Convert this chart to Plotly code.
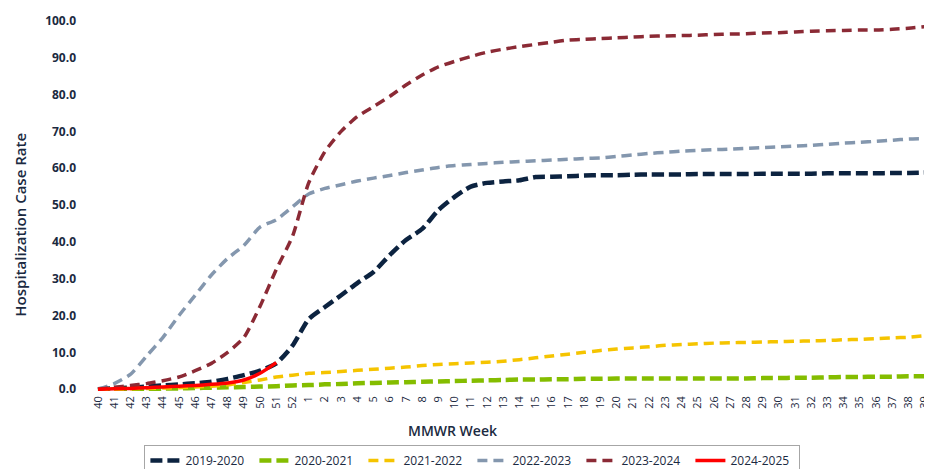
import plotly.graph_objects as go

weeks = [str(w) for w in range(40, 53)] + [str(w) for w in range(1, 40)]

s2019_2020 = [0, 0.2, 0.4, 0.7, 1.0, 1.3, 1.6, 2.0, 2.8, 3.8, 5.0, 7.0, 11.8,
              19.0, 22.3, 25.5, 28.8, 31.8, 36.4, 40.5, 43.5, 48.6, 52.2, 55.0, 56.0,
              56.4, 56.7, 57.6, 57.7, 57.8, 58.0, 58.1, 58.1, 58.2, 58.3, 58.3, 58.3,
              58.4, 58.4, 58.4, 58.4, 58.5, 58.5, 58.5, 58.5, 58.6, 58.6, 58.6, 58.6,
              58.7, 58.7, 58.8]
s2020_2021 = [0, 0, 0.05, 0.1, 0.15, 0.2, 0.3, 0.4, 0.5, 0.6, 0.7, 0.8, 1.0,
              1.1, 1.3, 1.4, 1.6, 1.7, 1.8, 1.9, 2.0, 2.1, 2.2, 2.3, 2.4,
              2.5, 2.6, 2.6, 2.7, 2.7, 2.8, 2.8, 2.9, 2.9, 2.9, 2.9, 2.9,
              2.9, 2.9, 2.9, 2.9, 3.0, 3.0, 3.1, 3.1, 3.2, 3.3, 3.3, 3.4,
              3.4, 3.5, 3.5]
s2021_2022 = [0, 0, 0.1, 0.2, 0.3, 0.4, 0.6, 0.8, 1.2, 1.8, 2.5, 3.3, 3.8,
              4.3, 4.5, 4.8, 5.1, 5.4, 5.7, 6.0, 6.4, 6.7, 6.9, 7.1, 7.3,
              7.6, 8.0, 8.5, 9.0, 9.5, 10.0, 10.5, 10.9, 11.2, 11.5, 11.9, 12.1,
              12.3, 12.5, 12.6, 12.7, 12.8, 12.9, 13.0, 13.1, 13.2, 13.4, 13.5, 13.7,
              13.9, 14.1, 14.5]
s2022_2023 = [0, 1.5, 4.0, 9.0, 14.0, 20.0, 25.5, 31.0, 35.5, 39.0, 44.0, 46.0, 49.5,
              53.0, 54.5, 55.5, 56.5, 57.3, 58.0, 58.8, 59.5, 60.2, 60.7, 61.0, 61.3,
              61.6, 61.8, 62.0, 62.2, 62.4, 62.6, 62.8, 63.2, 63.6, 64.0, 64.3, 64.6,
              64.8, 65.0, 65.2, 65.4, 65.6, 65.8, 66.0, 66.2, 66.5, 66.8, 67.0, 67.3,
              67.6, 67.9, 68.0]
s2023_2024 = [0, 0.5, 1.0, 1.5, 2.3, 3.3, 5.0, 7.0, 10.0, 14.0, 22.5, 32.5, 41.5,
              56.0, 64.5, 70.0, 74.0, 76.7, 79.5, 82.6, 85.3, 87.5, 89.0, 90.3, 91.5,
              92.3, 93.0, 93.6, 94.2, 94.8, 95.0, 95.2, 95.4, 95.6, 95.8, 95.9, 96.0,
              96.1, 96.3, 96.4, 96.5, 96.7, 96.8, 97.0, 97.2, 97.3, 97.4, 97.5, 97.5,
              97.7, 98.0, 98.4]
s2024_2025 = [0, 0.1, 0.2, 0.4, 0.6, 0.8, 1.0, 1.3, 1.7, 2.5, 4.3, 7.2]

series = [
    ("2019-2020", s2019_2020, "#0C2340", 4.5, "12px,5px"),
    ("2020-2021", s2020_2021, "#84BD00", 4.5, "12px,5px"),
    ("2021-2022", s2021_2022, "#F5C400", 3.5, "10px,6px"),
    ("2022-2023", s2022_2023, "#8497AE", 3.5, "10px,6px"),
    ("2023-2024", s2023_2024, "#8B2A35", 3.5, "10px,6px"),
]

fig = go.Figure()
for name, vals, color, w, dash in series:
    fig.add_trace(go.Scatter(x=weeks[:len(vals)], y=vals, name=name, mode="lines",
                             line=dict(color=color, width=w, dash=dash, shape="spline", smoothing=0.6)))
fig.add_trace(go.Scatter(x=weeks[:len(s2024_2025)], y=s2024_2025, name="2024-2025", mode="lines",
                         line=dict(color="#FF0000", width=3.5, shape="spline", smoothing=0.6)))

txt = "#1B2A41"
fig.update_layout(
    width=932, height=474,
    margin=dict(l=88, r=14, t=11, b=91, autoexpand=False),
    paper_bgcolor="white", plot_bgcolor="white",
    font=dict(family="Open Sans", color=txt, size=12),
    showlegend=True,
    legend=dict(orientation="h", x=0.4535, xanchor="center", y=-0.1452, yanchor="top",
                bordercolor="#A6A6A6", borderwidth=1, font=dict(size=12, color=txt),
                itemwidth=30, entrywidth=64, entrywidthmode="pixels",
                tracegroupgap=0),
    xaxis=dict(type="category", categoryorder="array", categoryarray=weeks,
               range=[-0.12, 51.08], tickangle=-90, showgrid=False, showline=False,
               zeroline=False, ticks="", automargin=False, ticklabelstandoff=2,
               tickfont=dict(size=11, color=txt)),
    yaxis=dict(range=[-0.5, 100.5], tickvals=[0, 10, 20, 30, 40, 50, 60, 70, 80, 90, 100],
               tickformat=".1f", showgrid=False, showline=False, zeroline=False, ticks="",
               ticklabelstandoff=19, automargin=False,
               tickfont=dict(size=12, color=txt, weight="bold")),
    annotations=[
        dict(text="MMWR Week", xref="paper", yref="paper", x=0.429, y=-0.105,
             xanchor="center", yanchor="middle", showarrow=False,
             font=dict(size=14, color=txt, weight=600)),
        dict(text="Hospitalization Case Rate", xref="paper", yref="paper", x=-0.0916, y=0.447,
             xanchor="center", yanchor="middle", textangle=-90, showarrow=False,
             font=dict(size=15, color=txt, weight=600)),
    ],
)

fig.write_html("out.html")
